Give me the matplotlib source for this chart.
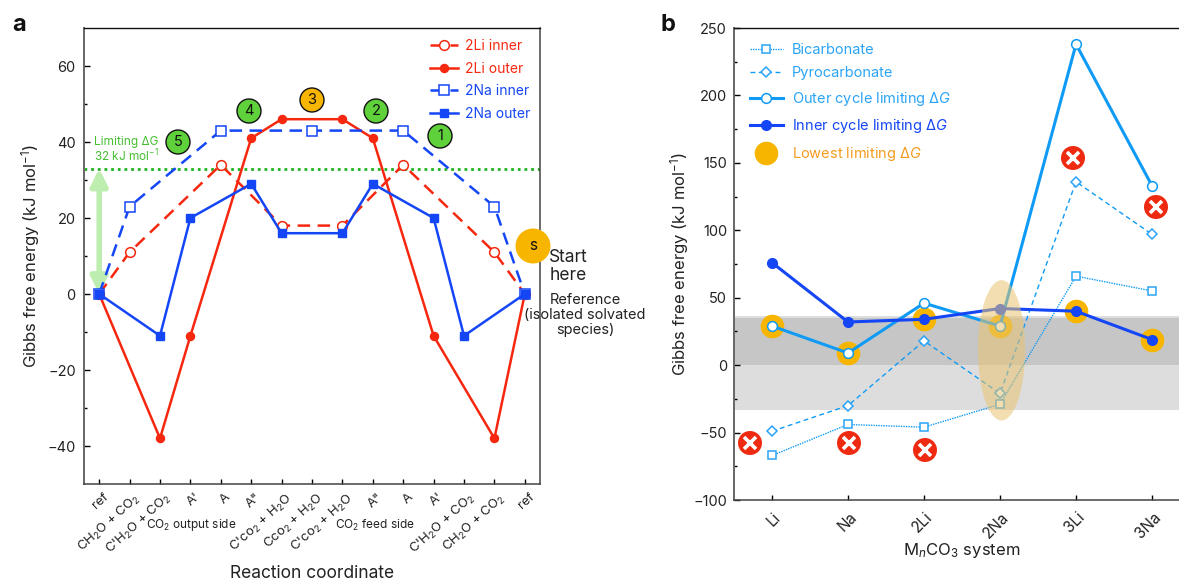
import numpy as np
import matplotlib
matplotlib.use('Agg')
import matplotlib.pyplot as plt
from matplotlib.lines import Line2D
from matplotlib.patches import Ellipse, Circle
from matplotlib.transforms import Affine2D, ScaledTranslation

plt.rcParams['font.family'] = ['Inter', 'DejaVu Sans']
plt.rcParams['mathtext.fontset'] = 'custom'
plt.rcParams['mathtext.rm'] = 'Inter'
plt.rcParams['mathtext.it'] = 'Inter:italic'
plt.rcParams['mathtext.default'] = 'regular'

W, H = 1179, 581

RED = '#f5280f'
BLUE = '#1446f5'
SKY = '#0f9bf5'
SKY_TXT = '#2ba4f7'
GREEN = '#1fb31f'
AMBER = '#f7b500'
TXT = '#222222'

# panel a
coord_labels = ['ref', "CH$_2$O + CO$_2$", "C'H$_2$O + CO$_2$", "A'", 'A', 'A"',
                "C'co$_2$ + H$_2$O", "Cco$_2$ + H$_2$O", "C'co$_2$ + H$_2$O", 'A"', 'A', "A'",
                "C'H$_2$O + CO$_2$", "CH$_2$O + CO$_2$", 'ref']
li_inner_x = [0, 1, 4, 6, 8, 10, 13, 14]
li_inner_y = [0, 11, 34, 18, 18, 34, 11, 0]
li_outer_x = [0, 2, 3, 5, 6, 8, 9, 11, 13, 14]
li_outer_y = [0, -38, -11, 41, 46, 46, 41, -11, -38, 0]
na_inner_x = [0, 1, 4, 7, 10, 13, 14]
na_inner_y = [0, 23, 43, 43, 43, 23, 0]
na_outer_x = [0, 2, 3, 5, 6, 8, 9, 11, 12, 14]
na_outer_y = [0, -11, 20, 29, 16, 16, 29, 20, -11, 0]
limiting_dg = 33

# panel b
systems = ['Li', 'Na', '2Li', '2Na', '3Li', '3Na']
bicarbonate = [-67, -44, -46, -29, 66, 55]
pyrocarbonate = [-49, -30, 18, -21, 136, 97]
outer_limit = [29, 9, 46, 29, 238, 133]
inner_limit = [76, 32, 34, 42, 40, 19]
lowest_limit = [29, 9, 34, 29, 40, 19]


def px_axes(x0, y0, x1, y1):
    return fig.add_axes([x0 / W, 1 - y1 / H, (x1 - x0) / W, (y1 - y0) / H])


def px_text(x, y, s, **kw):
    kw.setdefault('ha', 'center')
    kw.setdefault('va', 'center')
    kw.setdefault('color', TXT)
    fig.text(x / W, 1 - y / H, s, **kw)


def px_circle(x, y, r, **kw):
    # placed in figure pixels so it stays round and may cross the axes edge
    fig.add_artist(Circle((x, H - y), r, transform=Affine2D(), **kw))


def style_axes(a):
    for s in a.spines.values():
        s.set_color('#444444')
        s.set_linewidth(1.1)
    a.spines['left'].set_color('#666666')
    a.spines['left'].set_linewidth(1.4)
    a.spines['top'].set_color('#111111')
    a.spines['top'].set_linewidth(1.0)
    a.tick_params(axis='y', which='major', direction='in', length=4, width=1, labelsize=10.5,
                  labelcolor=TXT, pad=6)
    a.tick_params(axis='y', which='minor', direction='in', length=2.5, width=1)
    a.tick_params(axis='x', direction='in', length=3.5, width=1)


def shift_xlabels(a, dx_px):
    for lab in a.get_xticklabels():
        lab.set_transform(lab.get_transform() + ScaledTranslation(dx_px / 100, 0, fig.dpi_scale_trans))


fig = plt.figure(figsize=(W / 100, H / 100), dpi=100)

# ---- panel a
ax = px_axes(84, 28, 540, 484)
ax.set_xlim(-0.5, 14.5)
ax.set_ylim(-50, 70)
ax.axhline(limiting_dg, color=GREEN, lw=2, ls=(0, (1, 1.4)), zorder=1)
ax.annotate('', xy=(0, 0), xytext=(0, limiting_dg),
            arrowprops=dict(arrowstyle='<|-|>,head_width=0.5,head_length=1.0',
                            color='#bdeeb0', lw=4, shrinkA=0, shrinkB=0), zorder=1)

ax.plot(li_inner_x, li_inner_y, color=RED, ls=(0, (5, 3)), lw=1.8, marker='o', ms=7,
        mfc='white', mec=RED, mew=1.1, label='2Li inner', zorder=3)
ax.plot(li_outer_x, li_outer_y, color=RED, lw=1.8, marker='o', ms=5.8, label='2Li outer', zorder=3)
ax.plot(na_inner_x, na_inner_y, color=BLUE, ls=(0, (5, 3)), lw=1.8, marker='s', ms=7,
        mfc='white', mec=BLUE, mew=1.1, label='2Na inner', zorder=4)
ax.plot(na_outer_x, na_outer_y, color=BLUE, lw=1.8, marker='s', ms=5.8, label='2Na outer', zorder=4)

ax.legend(loc='upper left', bbox_to_anchor=((430 - 84) / 456, 1 - (39 - 28) / 456), frameon=False,
          fontsize=10, handlelength=2.0, handletextpad=0.5, labelspacing=0.62, borderaxespad=0,
          borderpad=0, labelcolor=[RED, RED, BLUE, BLUE])

ax.set_xticks(range(len(coord_labels)))
ax.set_xticklabels(coord_labels, rotation=42, ha='right', rotation_mode='anchor', fontsize=9.5, color=TXT)
ax.set_yticks([-40, -20, 0, 20, 40, 60])
ax.set_yticklabels(['\u221240', '\u221220', '0', '20', '40', '60'])
ax.set_yticks([-30, -10, 10, 30, 50], minor=True)
style_axes(ax)
ax.tick_params(axis='x', pad=5)
shift_xlabels(ax, 4)
ax.set_ylabel('Gibbs free energy (kJ mol$^{-1}$)', fontsize=12, color=TXT, labelpad=4)
px_text(312, 573, 'Reaction coordinate', fontsize=12.5)

px_text(126, 142, 'Limiting \u0394G', color='#45bf30', fontsize=8.5)
px_text(126, 156, '32 kJ mol$^{-1}$', color='#45bf30', fontsize=8.5)
px_text(191, 525, 'CO$_2$ output side', fontsize=8.5)
px_text(375, 525, 'CO$_2$ feed side', fontsize=8.5)

for x, y, n, c in [(178, 142, '5', '#5fd13a'), (249, 111, '4', '#5fd13a'), (312, 100, '3', AMBER),
                   (376, 111, '2', '#5fd13a'), (440, 136, '1', '#5fd13a')]:
    px_circle(x, y, 12, fc=c, ec='#111111', lw=1, zorder=6)
    px_text(x, y, n, fontsize=10.5, color='#111111', zorder=7)
px_circle(533, 246, 17.5, fc=AMBER, ec='none', zorder=6)
px_text(533, 246, 's', fontsize=11, color='#111111', zorder=7)
px_text(549, 257, 'Start', fontsize=12.5, ha='left')
px_text(550, 275, 'here', fontsize=12.5, ha='left')
px_text(585, 315, 'Reference\n(isolated solvated\nspecies)', fontsize=10.5, linespacing=1.1)
px_text(19, 25, 'a', fontsize=17, fontweight='bold', color='#111111')

# ---- panel b
bx = px_axes(734, 28, 1179, 500)
bx.set_xlim(-0.5, 5.355)
bx.set_ylim(-100, 250)
bx.axhspan(0, 35, color='#c6c6c6', lw=0, zorder=0)
bx.axhspan(35, 36.5, color='#dddddd', lw=0, zorder=0)
bx.axhspan(-33, 0, color='#dddddd', lw=0, zorder=0)

x = np.arange(len(systems))
bx.plot(x, bicarbonate, color=SKY, lw=1, ls=(0, (1, 0.8)), marker='s', ms=5.4, mfc='white',
        mec=SKY_TXT, mew=1.1, label='Bicarbonate', zorder=3)
bx.plot(x, pyrocarbonate, color=SKY, lw=1, ls=(0, (3.5, 2.5)), marker='D', ms=5, mfc='white',
        mec=SKY_TXT, mew=1.1, label='Pyrocarbonate', zorder=3)
bx.plot(x, outer_limit, color=SKY, lw=2.2, marker='o', ms=7, mfc='white', mec=SKY, mew=1.1,
        label='Outer cycle limiting \u0394$\\mathit{G}$', zorder=4)
bx.plot(x, inner_limit, color=BLUE, lw=2.2, marker='o', ms=7,
        label='Inner cycle limiting \u0394$\\mathit{G}$', zorder=5)
bx.plot(x, lowest_limit, ls='none', marker='o', ms=17, color=AMBER, mew=0,
        label='Lowest limiting \u0394$\\mathit{G}$', zorder=2)
bx.add_patch(Ellipse((3.02, 11), 0.62, 104, fc='#e8c470', ec='none', alpha=0.55, zorder=6))

bx.legend(loc='upper left', bbox_to_anchor=((750 - 734) / 445, 1 - (43 - 28) / 472), frameon=False,
          fontsize=10.5, handlelength=2.25, handletextpad=0.6, labelspacing=0.65, borderaxespad=0,
          borderpad=0, labelcolor=[SKY_TXT, SKY_TXT, SKY_TXT, BLUE, '#f59c1f'])

bx.set_xticks(x)
bx.set_xticklabels(systems, rotation=45, ha='right', rotation_mode='anchor', fontsize=11, color=TXT)
bx.set_yticks(np.arange(-100, 251, 50))
bx.set_yticklabels(['\u2212100', '\u221250', '0', '50', '100', '150', '200', '250'])
bx.set_yticks(np.arange(-75, 250, 50), minor=True)
style_axes(bx)
bx.tick_params(axis='y', which='major', pad=5)
bx.tick_params(axis='x', pad=7)
shift_xlabels(bx, 1)
bx.set_ylabel('Gibbs free energy (kJ mol$^{-1}$)', fontsize=12, color=TXT, labelpad=2)
px_text(962, 551, 'M$_\\mathit{n}$CO$_3$ system', fontsize=12)
bx.spines['right'].set_visible(False)

for cx, cy in [(750, 443), (849, 443), (925, 450), (1073, 158), (1156, 207)]:
    px_circle(cx, cy, 12, fc='#ee2a10', ec='none', zorder=8)
    fig.add_artist(Line2D([cx], [H - cy], marker='x', ms=8.5, mew=2.6, color='white',
                          transform=Affine2D(), zorder=9))
px_text(668, 25, 'b', fontsize=17, fontweight='bold', color='#111111')

fig.savefig('out.png', dpi=100)
